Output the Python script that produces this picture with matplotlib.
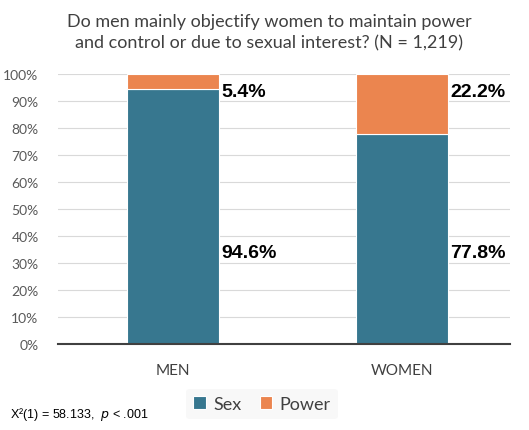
import numpy as np
import matplotlib.pyplot as plt

# datos
categorias = ["MEN", "WOMEN"]
sexo = [94.6, 77.8]
poder = [5.4, 22.2]
etiquetas_sexo = ["94.6%", "77.8%"]
etiquetas_poder = ["5.4%", "22.2%"]
ticks_y = [0, 10, 20, 30, 40, 50, 60, 70, 80, 90, 100]

azul = "#37778f"
naranja = "#eb854f"

fig = plt.figure(figsize=(5.29, 4.31), dpi=100)
ax = fig.add_axes([58/529, 1-345/431, 452/529, 270/431])

x = np.arange(len(categorias))
ax.bar(x, sexo, width=0.4, color=azul, edgecolor="white", linewidth=0.8, label="Sex", zorder=3)
ax.bar(x, poder, width=0.4, bottom=sexo, color=naranja, edgecolor="white", linewidth=0.8, label="Power", zorder=3)

for i in range(len(categorias)):
    ax.text(x[i] + 0.21, 34, etiquetas_sexo[i], fontsize=14, fontweight="bold",
            family="Liberation Sans", va="center", ha="left", zorder=4)
    ax.text(x[i] + 0.21, 93.7, etiquetas_poder[i], fontsize=14, fontweight="bold",
            family="Liberation Sans", va="center", ha="left", zorder=4)

ax.set_xlim(-0.5, 1.47)
ax.set_ylim(0, 100)
ax.set_yticks(ticks_y)
ax.set_yticklabels([f"{t}%" for t in ticks_y], family="Lato", fontsize=10, color="#595959")
ax.set_xticks(x)
ax.set_xticklabels(categorias, family="Lato", fontsize=11, color="#404040")
ax.tick_params(axis="both", length=0)
ax.tick_params(axis="x", pad=14)
ax.tick_params(axis="y", pad=14)
ax.grid(axis="y", color="#d9d9d9", linewidth=0.8, zorder=0)
for s in ["top", "right", "left"]:
    ax.spines[s].set_visible(False)
ax.spines["bottom"].set_color("#404040")
ax.spines["bottom"].set_linewidth(1.5)
ax.spines["bottom"].set_zorder(5)

fig.text(269/529, 1-33/431, "Do men mainly objectify women to maintain power\nand control or due to sexual interest? (N = 1,219)",
         ha="center", va="center", family="Lato", fontsize=13, color="#404040", linespacing=1.4)

leg = fig.legend(loc="center", bbox_to_anchor=(262/529, 1-405/431), ncol=2, frameon=True,
                 prop={"family": "Lato", "size": 13}, handlelength=0.7, handleheight=0.7,
                 columnspacing=1.0, handletextpad=0.4, borderpad=0.4)
leg.get_frame().set_facecolor("#f7f7f7")
leg.get_frame().set_edgecolor("none")
for t in leg.get_texts():
    t.set_color("#404040")

fig.text(10/529, 1-415/431, r"X²(1) = 58.133,  $\it{p}$ < .001", family="Liberation Sans",
         fontsize=9, va="center", ha="left")

fig.savefig("out.png", dpi=100)
